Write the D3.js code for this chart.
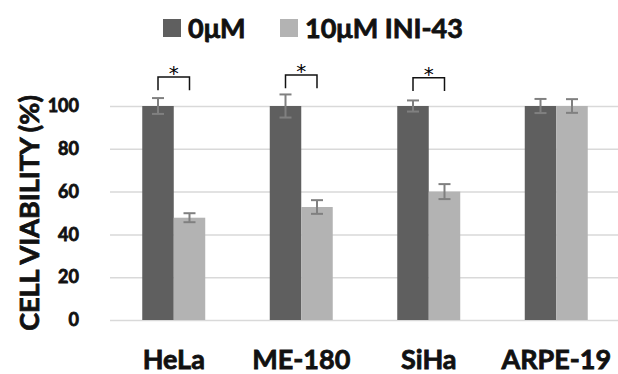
<!DOCTYPE html>
<html>
<head>
<meta charset="utf-8">
<script src="https://cdn.jsdelivr.net/npm/d3@7"></script>
<style>
  body { margin: 0; background: #fff; }
  svg { display: block; font-family: Lato, "Open Sans", sans-serif; font-weight: bold; }
  .heavy { stroke: #111; stroke-width: 0.8px; paint-order: stroke; }
</style>
</head>
<body>
<svg id="chart" width="618" height="374"></svg>
<script>
// cell lines and treatments
const cellLines = ["HeLa", "ME-180", "SiHa", "ARPE-19"];
const series = ["0\u03bcM", "10\u03bcM INI-43"];
const seriesColors = ["#5f5f5f", "#b3b3b3"];

// viability (%) and error (+/-)
const viability0 = [100, 100, 100, 100];
const viability10 = [47.8, 52.8, 60, 100];
const err0 = [3.7, 5.4, 2.6, 3.3];
const err10 = [2.1, 3.2, 3.5, 3.2];

// significance brackets: which groups, bracket top (value units)
const sigGroups = ["HeLa", "ME-180", "SiHa"];
const sigTop = [113.6, 114.5, 113.2];

const yTicks = [0, 20, 40, 60, 80, 100];

const svg = d3.select("#chart");
const W = 618;

const x0 = d3.scaleBand()
    .domain(cellLines)
    .range([110, 620])
    .paddingInner(0.506)
    .paddingOuter(0.253);

const x1 = d3.scaleBand()
    .domain(series)
    .range([0, x0.bandwidth()]);

const y = d3.scaleLinear()
    .domain([0, 100])
    .range([320, 106]);

// gridlines + tick labels
const yAxis = svg.append("g")
    .attr("transform", "translate(110,0)")
    .call(d3.axisLeft(y).tickValues(yTicks).tickSize(-(W - 110)).tickPadding(31));
yAxis.select(".domain").remove();
yAxis.selectAll("line").attr("stroke", "#d9d9d9").attr("stroke-width", 1.5);
yAxis.selectAll("text")
    .attr("class", "heavy")
    .attr("font-size", 18)
    .attr("font-family", "Lato, sans-serif")
    .attr("font-weight", "bold")
    .attr("fill", "#111");

// bars
const rows = cellLines.map((c, i) => ({
    line: c,
    vals: [
        { s: series[0], v: viability0[i], e: err0[i] },
        { s: series[1], v: viability10[i], e: err10[i] }
    ]
}));

const groups = svg.append("g").selectAll("g.grp")
    .data(rows)
    .join("g")
    .attr("class", "grp")
    .attr("transform", d => `translate(${x0(d.line)},0)`);

groups.selectAll("rect")
    .data(d => d.vals)
    .join("rect")
    .attr("x", d => x1(d.s))
    .attr("y", d => y(d.v))
    .attr("width", x1.bandwidth())
    .attr("height", d => y(0) - y(d.v))
    .attr("fill", (d, i) => seriesColors[i]);

// error bars
const eb = groups.selectAll("g.err")
    .data(d => d.vals)
    .join("g")
    .attr("class", "err")
    .attr("stroke", "#808080")
    .attr("stroke-width", 2);
const cx = d => x1(d.s) + x1.bandwidth() / 2;
eb.append("line")
    .attr("x1", cx).attr("x2", cx)
    .attr("y1", d => y(d.v + d.e)).attr("y2", d => y(d.v - d.e));
eb.append("line")
    .attr("x1", d => cx(d) - 6).attr("x2", d => cx(d) + 6)
    .attr("y1", d => y(d.v + d.e)).attr("y2", d => y(d.v + d.e));
eb.append("line")
    .attr("x1", d => cx(d) - 6).attr("x2", d => cx(d) + 6)
    .attr("y1", d => y(d.v - d.e)).attr("y2", d => y(d.v - d.e));

// significance brackets
const sig = svg.append("g").selectAll("g")
    .data(sigGroups.map((g, i) => ({ g, top: sigTop[i] })))
    .join("g");
sig.append("path")
    .attr("fill", "none")
    .attr("stroke", "#111")
    .attr("stroke-width", 1.5)
    .attr("d", d => {
        const a = x0(d.g) + x1(series[0]) + x1.bandwidth() / 2;
        const b = x0(d.g) + x1(series[1]) + x1.bandwidth() / 2;
        const t = y(d.top), l = y(d.top - 6.2);
        return `M${a},${l}V${t}H${b}V${l}`;
    });
sig.append("text")
    .attr("x", d => x0(d.g) + x0.bandwidth() / 2)
    .attr("y", d => y(d.top) + 3)
    .attr("text-anchor", "middle")
    .attr("font-size", 20)
    .attr("font-family", "DejaVu Sans, sans-serif")
    .attr("font-weight", "normal")
    .attr("fill", "#000")
    .text("*");

// category labels
const xAxis = svg.append("g")
    .attr("transform", "translate(0,320)")
    .call(d3.axisBottom(x0).tickSize(0));
xAxis.select(".domain").remove();
xAxis.selectAll("text")
    .attr("class", "heavy")
    .attr("dy", null)
    .attr("y", 49)
    .attr("font-size", 27)
    .attr("font-family", "Lato, sans-serif")
    .attr("font-weight", "bold")
    .attr("fill", "#111")
    .each(function () {
        // keep last label inside the canvas
        const len = this.getComputedTextLength();
        const tx = +d3.select(this.parentNode).attr("transform").match(/translate\(([-\d.]+)/)[1];
        if (tx + len / 2 > W - 6) d3.select(this).attr("x", W - 6 - len / 2 - tx);
    });

// y title
svg.append("text")
    .attr("class", "heavy")
    .attr("transform", "translate(39,213) rotate(-90)")
    .attr("text-anchor", "middle")
    .attr("font-size", 27)
    .attr("fill", "#111")
    .text("CELL VIABILITY (%)");

// legend
const legX = [163, 280];
const leg = svg.append("g").selectAll("g")
    .data(series)
    .join("g")
    .attr("transform", (d, i) => `translate(${legX[i]},19)`);
leg.append("rect")
    .attr("width", 18).attr("height", 18)
    .attr("fill", (d, i) => seriesColors[i]);
leg.append("text")
    .attr("class", "heavy")
    .attr("x", 25).attr("y", 18.5)
    .attr("font-size", 27)
    .attr("fill", "#111")
    .text(d => d);
</script>
</body>
</html>
